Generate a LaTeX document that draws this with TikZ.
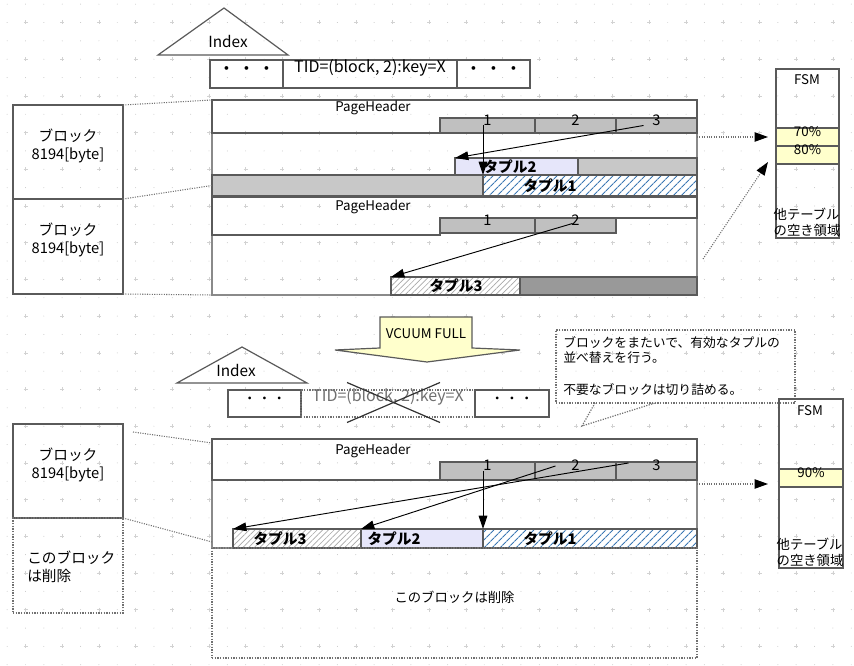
\documentclass[tikz,border=0pt]{standalone}
\usepackage{fontspec}
\setmainfont{Noto Sans CJK JP}
\usetikzlibrary{arrows.meta,patterns,patterns.meta,fit,calc}
\definecolor{edge}{HTML}{5A5A5A}
\definecolor{pageedge}{HTML}{8A8A8A}
\definecolor{slotgray}{HTML}{C0C0C0}
\definecolor{bargray}{HTML}{C8C8C8}
\definecolor{darkgray2}{HTML}{999999}
\definecolor{lav}{HTML}{E6E6FA}
\definecolor{pale}{HTML}{FFFFCC}
\definecolor{hatchblue}{HTML}{3C78B4}
\definecolor{hatchgray}{HTML}{A8A8A8}
\definecolor{gridc}{HTML}{C4C4C4}
\definecolor{gridx}{HTML}{D2D2D2}
\definecolor{dotc}{HTML}{707070}
\tikzset{
  box/.style={draw=edge, line width=1pt, inner sep=0pt, outer sep=0pt},
  pagebox/.style={draw=pageedge, line width=1pt, inner sep=0pt, outer sep=0pt},
  dbox/.style={draw=dotc, densely dotted, line width=1pt, inner sep=0pt, outer sep=0pt},
  ptr/.style={-{Triangle[length=10pt,width=6.5pt]}, line width=0.7pt, black},
  dptr/.style={-{Triangle[length=10pt,width=7pt,color=black]}, densely dotted, line width=0.8pt, draw=dotc},
  dlink/.style={densely dotted, line width=0.8pt, draw=dotc},
  txt/.style={inner sep=0pt, font=\fontsize{10}{12}\selectfont},
  big/.style={inner sep=0pt, font=\fontsize{11}{13.5}\selectfont},
  tup/.style={inner sep=0pt, font=\fontsize{11}{13}\selectfont\bfseries},
  num/.style={font=\fontsize{11}{12}\selectfont},
  bluehatch/.style={preaction={fill=white}, pattern={Lines[angle=45,distance=4pt,line width=0.9pt]}, pattern color=hatchblue},
  grayhatch/.style={preaction={fill=white}, pattern={Lines[angle=45,distance=3pt,line width=0.5pt]}, pattern color=hatchgray},
}
\begin{document}
\begin{tikzpicture}[x=0.75pt,y=-0.75pt]
\useasboundingbox (0,0) rectangle (854,666);
\fill[white] (0,0) rectangle (854,666);
% background dot grid
\foreach \i in {-2,...,46}{\foreach \j in {-2,...,36}{\fill[gridc] ({25.5+\i*18.35},{22.5+\j*18.35}) circle[radius=0.35pt];}}
\foreach \i in {-1,...,23}{\foreach \j in {-1,...,18}{\draw[gridx, line width=0.4pt] ({25.5+\i*36.7-2},{22.5+\j*36.7}) -- ++(4,0) ({25.5+\i*36.7},{22.5+\j*36.7-2}) -- ++(0,4);}}

% ===== top index =====
\draw[edge, line width=0.9pt] (158,55) -- (224,8) -- (288,55) -- cycle;
\node[txt, font=\fontsize{11.5}{13}\selectfont] (idx1) at (228,42) {Index};
\node[box, fit={(210,60)(283,88)}, font=\fontsize{10}{12}\selectfont\bfseries] (ia1) {・\hspace{0.5em}・\hspace{0.5em}・};
\node[box, fit={(283,60)(457,88)}, inner sep=0pt, font=\fontsize{12}{14}\selectfont] (ia2) {TID=(block, 2):key=X};
\node[box, fit={(457,60)(530,88)}, font=\fontsize{10}{12}\selectfont\bfseries] (ia3) {・\hspace{0.5em}・\hspace{0.5em}・};

% ===== left blocks (top) =====
\node[box, fit={(13,105)(123,199)}, align=center, big] (blk1) {ブロック\\8194[byte]};
\node[box, fit={(13,199)(123,294)}, align=center, big] (blk2) {ブロック\\8194[byte]};

% ===== page 1 =====
\node[pagebox, fit={(212,100)(697,196)}] (pg1) {};
\draw[box] (212,100) -- (697,100) -- (697,118) -- (440,118) -- (440,133) -- (212,133) -- cycle;
\node[txt] (ph1) at (373,108) {PageHeader};
\node[box, fill=slotgray, fit={(440,118)(535,133)}, num] (a1) {1};
\node[box, fill=slotgray, fit={(535,118)(616,133)}, num] (a2) {2};
\node[box, fill=slotgray, fit={(616,118)(697,133)}, num] (a3) {3};
\node[box, fill=lav, fit={(455,158)(578,175)}] (t2a) {};
\node[box, fill=bargray, fit={(578,158)(697,175)}] (g1) {};
\node[box, fill=bargray, fit={(212,175)(483,196)}] (g2) {};
\node[box, bluehatch, fit={(483,175)(697,196)}] (t1a) {};
\node[tup] (t2al) at (510,167) {タプル2};
\node[tup] (t1al) at (550,186) {タプル1};
\draw[ptr] (a1.center -| t1a.north west) -- (t1a.north west);
\draw[ptr] ($(a3.center)+(-13,0)$) -- (t2a.north west);

% ===== page 2 =====
\node[pagebox, fit={(212,197)(697,295)}] (pg2) {};
\draw[box] (212,197) -- (697,197) -- (697,218) -- (440,218) -- (440,235) -- (212,235) -- cycle;
\node[txt] (ph2) at (373,207) {PageHeader};
\node[box, fill=slotgray, fit={(440,218)(535,233)}, num] (b1) {1};
\node[box, fill=slotgray, fit={(535,218)(616,233)}, num] (b2) {2};
\node[box, grayhatch, fit={(391,277)(520,295)}] (t3a) {};
\node[box, fill=darkgray2, fit={(520,277)(697,295)}] (g3) {};
\node[tup] (t3al) at (456,286) {タプル3};
\draw[ptr] ($(b2.center)+(-3,-2)$) -- (t3a.north west);

% dotted links left
\draw[dlink] (blk1.north east) -- (pg1.north west);
\draw[dlink] (blk1.south east) -- (g2.west);
\draw[dlink] (blk2.south east) -- (pg2.south west);

% ===== FSM top =====
\node[box, fit={(776,69)(839,238)}] (fsm1) {};
\node[txt] (fsm1l) at (807,80) {FSM};
\node[box, fill=pale, fit={(776,128)(839,146)}, txt] (f70) {70\%};
\node[box, fill=pale, fit={(776,146)(839,164)}, txt] (f80) {80\%};
\node[txt, align=left] (fsm1o) at (807,222) {他テーブル\\の空き領域};
\draw[dptr] (pg1.north east |- f70.west) -- ($(f70.west)+(-8,0)$);
\draw[dptr] ($(pg2.east)+(6,13)$) -- ($(f80.south west)+(-8,-2)$);

% ===== VACUUM FULL arrow =====
\draw[edge, line width=0.9pt, fill=pale] (380,317) -- (472,317) -- (472,348) -- (520,350) -- (427,362) -- (335,350) -- (380,348) -- cycle;
\node[txt] (vac) at (426,334) {VCUUM FULL};

% ===== callout =====
\draw[dlink, line width=0.9pt] (595,403) -- (582,426) -- (655,403);
\node[dbox, fit={(556,330)(795,403)}] (callout) {};
\node[inner sep=0pt, anchor=north west, align=left, font=\fontsize{9.6}{11.8}\selectfont] (calloutt) at (563,336) {ブロックをまたいで、有効なタプルの\\並べ替えを行う。\\[12pt]不要なブロックは切り詰める。};

% ===== bottom index =====
\draw[edge, line width=0.9pt] (177,383) -- (242,347) -- (307,383) -- cycle;
\node[txt, font=\fontsize{11.5}{13}\selectfont] (idx2) at (236,370) {Index};
\node[box, fit={(228,390)(301,417)}, txt] (ib1) {・\hspace{0.1em}・\hspace{0.1em}・};
\node[dbox, fit={(301,390)(475,417)}, inner sep=0pt, font=\fontsize{12}{14}\selectfont, text=dotc] (ib2) {TID=(block, 2):key=X};
\node[box, fit={(475,390)(549,417)}, txt] (ib3) {・\hspace{0.1em}・\hspace{0.1em}・};
\draw[black!80, line width=0.9pt] ($(ib2.center)+(-41,-21)$) -- ($(ib2.center)+(52,19)$);
\draw[black!80, line width=0.9pt] ($(ib2.center)+(52,-21)$) -- ($(ib2.center)+(-41,19)$);

% ===== bottom left blocks =====
\node[box, fit={(13,424)(123,518)}, align=center, big] (blk3) {ブロック\\8194[byte]};
\node[dbox, fit={(13,518)(123,613)}] (blk4) {};
\node[big, align=left, anchor=west] (blk4t) at (27,567) {このブロック\\は削除};

% ===== page 3 =====
\node[pagebox, fit={(212,439)(697,548)}] (pg3) {};
\draw[box] (212,439) -- (697,439) -- (697,462) -- (440,462) -- (440,480) -- (212,480) -- cycle;
\node[txt] (ph3) at (373,451) {PageHeader};
\node[box, fill=slotgray, fit={(440,462)(535,480)}, num] (c1) {1};
\node[box, fill=slotgray, fit={(535,462)(616,480)}, num] (c2) {2};
\node[box, fill=slotgray, fit={(616,462)(697,480)}, num] (c3) {3};
\node[box, grayhatch, fit={(233,529)(361,548)}] (u3) {};
\node[box, fill=lav, fit={(361,529)(483,548)}] (u2) {};
\node[box, bluehatch, fit={(483,529)(697,548)}] (u1) {};
\node[tup] (u3l) at (280,539) {タプル3};
\node[tup] (u2l) at (394,539) {タプル2};
\node[tup] (u1l) at (550,539) {タプル1};
\draw[ptr] (c1.center -| u1.north west) -- (u1.north west);
\draw[ptr] ($(c2.center)+(-20,-5)$) -- (u2.north west);
\draw[ptr] ($(c3.center)+(-28,-8)$) -- (u3.north west);
\node[dbox, fit={(212,548)(697,658)}, txt] (del) {このブロックは削除};

\draw[dlink] ($(blk3.north east)+(10,8)$) -- ($(pg3.north west)+(0,4)$);
\draw[dlink] (blk3.south east) -- ($(pg3.south west)+(0,-6)$);

% ===== FSM bottom =====
\node[box, fit={(779,399)(843,568)}] (fsm2) {};
\node[txt] (fsm2l) at (810,411) {FSM};
\node[box, fill=pale, fit={(779,469)(843,487)}, txt] (f90) {90\%};
\node[txt, align=left] (fsm2o) at (810,552) {他テーブル\\の空き領域};
\draw[dptr] (pg3.north east |- 0,484) -- ($(f90.west)+(-11,6)$);
\end{tikzpicture}
\end{document}
